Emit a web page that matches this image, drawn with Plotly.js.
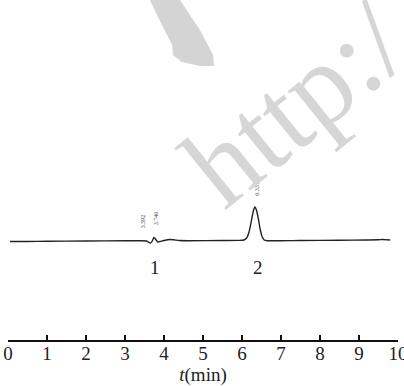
<!DOCTYPE html>
<html>
<head>
<meta charset="utf-8">
<script src="https://cdn.plot.ly/plotly-3.0.1.min.js"></script>
<style>html,body{margin:0;padding:0;background:#fff}#chart{width:404px;height:386px}</style>
</head>
<body>
<div id="chart"></div>
<script>
// Chromatogram (time in min, signal in arbitrary units, baseline = 0)
const timeMin = [0.05, 0.5, 1.0, 2.0, 3.0, 3.4, 3.55, 3.62, 3.66, 3.70, 3.74, 3.78, 3.84, 3.90, 4.00, 4.15, 4.25, 4.40, 4.60, 5.50, 5.90, 6.05, 6.12, 6.18, 6.24, 6.29, 6.33, 6.37, 6.42, 6.47, 6.52, 6.57, 6.65, 7.50, 8.50, 9.20, 9.50, 9.60, 9.80];
const signal  = [-0.5, -0.5, -0.3, 0.0, 0.2, 0.3, 0.0, -1.5, -2.0, 0.0, 3.5, 2.0, -1.0, -0.5, 0.5, 1.5, 1.2, 0.5, 0.3, 0.5, 0.6, 1.0, 3.0, 9.0, 20.0, 30.0, 34.0, 31.0, 22.0, 11.0, 4.0, 1.0, 0.3, 0.5, 0.7, 1.0, 1.2, 1.5, 1.0];
const peakLabels = ["1", "2"];
const peakLabelX = [3.77, 6.41];
const rtLabels = ["3.592", "3.746", "6.331"];
const rtLabelX = [3.47, 3.80, 6.38];
const rtLabelY = [20, 23, 52];
const xTicks = [0, 1, 2, 3, 4, 5, 6, 7, 8, 9, 10];

const serif = "Liberation Serif, Times New Roman, serif";
const annotations = [];
peakLabels.forEach((t, i) => annotations.push({
  x: peakLabelX[i], y: -26, xref: 'x', yref: 'y', text: t, showarrow: false,
  font: {family: serif, size: 19, color: '#222'}
}));
rtLabels.forEach((t, i) => annotations.push({
  x: rtLabelX[i], y: rtLabelY[i], xref: 'x', yref: 'y', text: t, showarrow: false,
  textangle: -90, font: {family: serif, size: 6, color: '#444'}
}));
// watermark
annotations.push({
  x: 0.735, y: 0.695, xref: 'paper', yref: 'paper', xanchor: 'center', yanchor: 'middle',
  text: 'http:/', showarrow: false,
  textangle: -39, font: {family: serif, size: 116, color: '#d6d6d6'}
});

Plotly.newPlot('chart', [{
  x: timeMin, y: signal, type: 'scatter', mode: 'lines',
  line: {color: '#222', width: 1.4, shape: 'spline', smoothing: 0.6},
  hoverinfo: 'skip'
}], {
  width: 404, height: 386,
  margin: {l: 8, r: 6, t: 0, b: 46},
  paper_bgcolor: '#fff', plot_bgcolor: 'rgba(0,0,0,0)',
  showlegend: false,
  shapes: [{
    type: 'path', xref: 'paper', yref: 'paper', layer: 'below',
    path: 'M 0.364 1 L 0.441 1 L 0.492 0.912 L 0.526 0.838 L 0.528 0.806 L 0.492 0.806 L 0.446 0.818 L 0.423 0.838 L 0.421 0.868 L 0.395 0.926 Z',
    fillcolor: '#d4d4d4', line: {width: 0}
  }],
  xaxis: {
    range: [0, 10], tickvals: xTicks, ticktext: xTicks.map(String),
    showgrid: false, zeroline: false, showline: true, linecolor: '#111', linewidth: 2,
    ticks: 'inside', ticklen: 5, tickwidth: 1.5, tickcolor: '#111',
    ticklabeloverflow: 'allow', ticklabelstandoff: -5,
    tickfont: {family: serif, size: 19, color: '#222'},
    title: {text: '<i>t</i>(min)', font: {family: serif, size: 19, color: '#222'}, standoff: 2},
    fixedrange: true
  },
  yaxis: {
    range: [-99, 241], visible: false, showgrid: false, zeroline: false, fixedrange: true
  },
  annotations: annotations
}, {displayModeBar: false, staticPlot: true});
</script>
</body>
</html>
